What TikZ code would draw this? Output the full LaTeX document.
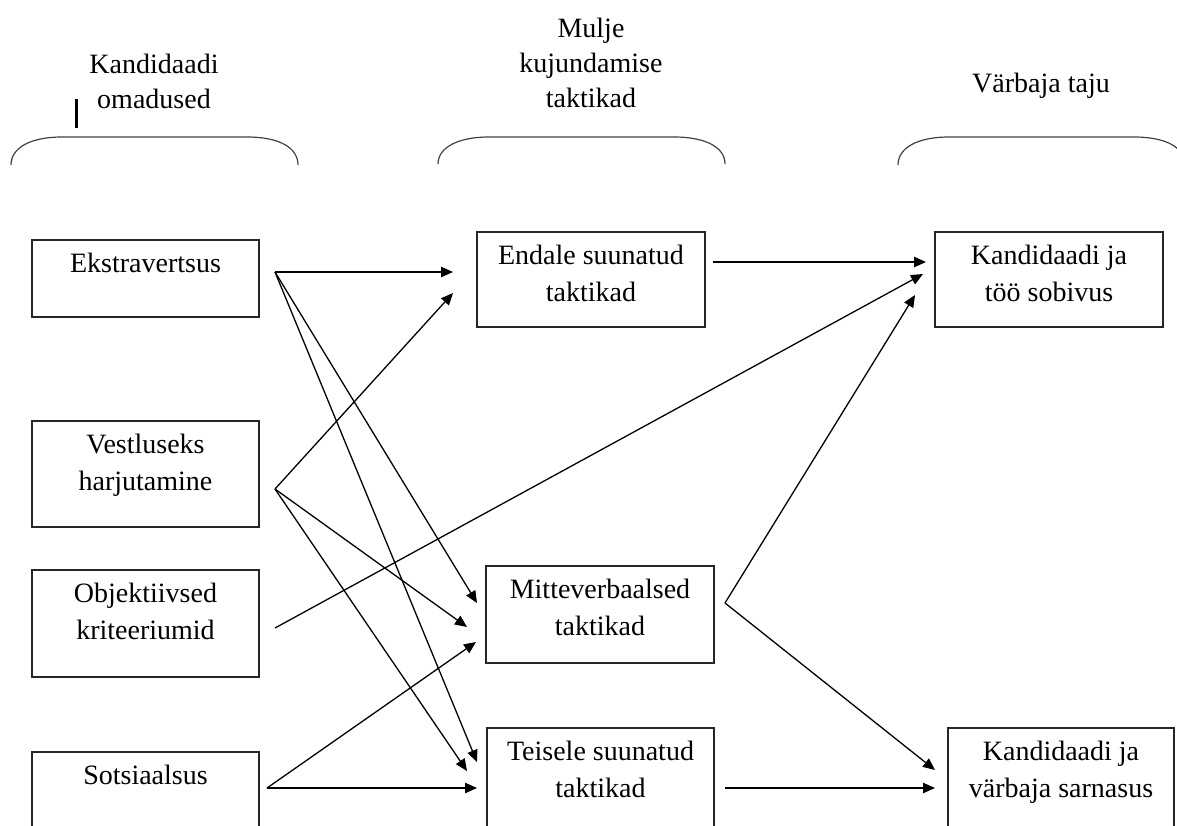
\documentclass[tikz,border=0pt]{standalone}
\usepackage{fontspec}
\setmainfont{Liberation Serif}
\usetikzlibrary{arrows.meta}
\begin{document}
\begin{tikzpicture}[x=0.5pt,y=-0.5pt,
 box/.style={draw=black!85, line width=0.7pt, inner sep=0pt, outer sep=0pt},
 lbl/.style={font=\fontsize{14}{18.5}\selectfont, align=center, inner sep=0pt, anchor=north, yshift=-6.5pt},
 hdr/.style={font=\fontsize{14}{17.5}\selectfont, align=center, inner sep=0pt},
 arr/.style={line width=0.65pt, -{Triangle[length=6pt,width=5.2pt]}},
 brace/.style={line width=0.6pt, draw=black!75}]
\useasboundingbox (0,0) rectangle (1177,825);
\clip (0,0) rectangle (1177,825);

% headers
\node[hdr] (h1) at (154,81) {Kandidaadi\\omadused};
\node[hdr] (h2) at (591,63) {Mulje\\kujundamise\\taktikad};
\node[hdr] (h3) at (1041,86) {Värbaja taju};
\draw[line width=1.5pt] (76,99) -- (76,128);

% braces
\draw[brace] (11,165) .. controls (11,148) and (30,137) .. (62,137) -- (247,137) .. controls (280,137) and (298,148) .. (298,165);
\draw[brace] (438,164) .. controls (438,148) and (457,137) .. (489,137) -- (674,137) .. controls (707,137) and (725,148) .. (725,164);
\draw[brace] (898,165) .. controls (898,148) and (917,137) .. (949,137) -- (1134,137) .. controls (1167,137) and (1185,148) .. (1185,165);

% left boxes
\node[box, minimum width=113.5pt, minimum height=38.5pt] (e) at (145.5,278.5) {};
\node[lbl] at (e.north) {Ekstravertsus};
\node[box, minimum width=113.5pt, minimum height=53pt] (v) at (145.5,474) {};
\node[lbl] at (v.north) {Vestluseks\\harjutamine};
\node[box, minimum width=113.5pt, minimum height=53.5pt] (o) at (145.5,623.5) {};
\node[lbl] at (o.north) {Objektiivsed\\kriteeriumid};
\node[box, minimum width=113.5pt, minimum height=60pt] (s) at (145.5,812) {};
\node[lbl] at (s.north) {Sotsiaalsus};

% middle boxes
\node[box, minimum width=114pt, minimum height=47.5pt] (en) at (591,279.5) {};
\node[lbl] at (en.north) {Endale suunatud\\taktikad};
\node[box, minimum width=114pt, minimum height=48.5pt] (m) at (600,614.5) {};
\node[lbl] at (m.north) {Mitteverbaalsed\\taktikad};
\node[box, minimum width=113.5pt, minimum height=60pt] (t) at (600.5,788) {};
\node[lbl] at (t.north) {Teisele suunatud\\taktikad};

% right boxes
\node[box, minimum width=114pt, minimum height=47.5pt] (k) at (1049,279.5) {};
\node[lbl] at (k.north) {Kandidaadi ja\\töö sobivus};
\node[box, minimum width=113pt, minimum height=60pt] (w) at (1061,788) {};
\node[lbl] at (w.north) {Kandidaadi ja\\värbaja sarnasus};

% connector end points
\coordinate (eo) at (275,272);
\coordinate (vo) at (275,489);
\coordinate (oo) at (275,628);
\coordinate (so) at (267,788);
\coordinate (en1) at (453,272);
\coordinate (en2) at (453,293);
\coordinate (eno) at (713,262);
\coordinate (m1) at (477,603);
\coordinate (m2) at (467,627);
\coordinate (m3) at (476,642);
\coordinate (mo) at (725,603);
\coordinate (t1) at (477,762);
\coordinate (t2) at (467,771);
\coordinate (t3) at (477,788);
\coordinate (to) at (725,788);
\coordinate (k1) at (926,262);
\coordinate (k2) at (923,274);
\coordinate (k3) at (915,295);
\coordinate (w1) at (935,770);
\coordinate (w2) at (935,788);

% connectors
\draw[arr] (eo) -- (en1);
\draw[arr] (eo) -- (m1);
\draw[arr] (eo) -- (t1);
\draw[arr] (vo) -- (en2);
\draw[arr] (vo) -- (m2);
\draw[arr] (vo) -- (t2);
\draw[arr] (oo) -- (k2);
\draw[arr] (so) -- (m3);
\draw[arr] (so) -- (t3);
\draw[arr] (eno) -- (k1);
\draw[arr] (mo) -- (k3);
\draw[arr] (mo) -- (w1);
\draw[arr] (to) -- (w2);
\end{tikzpicture}
\end{document}
